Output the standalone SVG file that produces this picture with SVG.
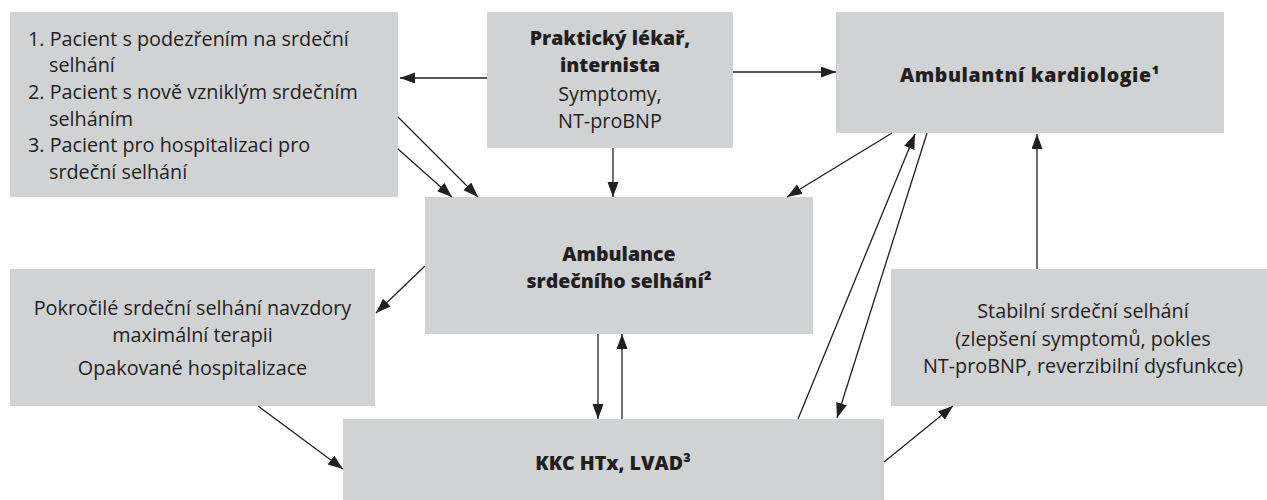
<svg xmlns="http://www.w3.org/2000/svg" width="1267" height="500" viewBox="0 0 1267 500">
<defs>
<marker id="ah" markerUnits="userSpaceOnUse" markerWidth="16" markerHeight="12" refX="15" refY="5.5" orient="auto"><path d="M0,0 L15,5.5 L0,11 z" fill="#231f20"/></marker>
<style>
.box{fill:#d1d2d4}
.t{font-family:"Open Sans","Liberation Sans",sans-serif;font-size:19.8px;fill:#231f20}
.b{font-weight:800;font-size:19.5px}
.m{text-anchor:middle}
.c line{stroke:#231f20;stroke-width:1.3;marker-end:url(#ah)}
</style>
</defs>
<rect width="1267" height="500" fill="#fff"/>
<g id="n-pacient">
<rect class="box" x="10" y="12" width="388" height="185"/>
<text class="t" x="28" y="46">1. Pacient s podezřením na srdeční</text>
<text class="t" x="49" y="72">selhání</text>
<text class="t" x="28" y="99">2. Pacient s nově vzniklým srdečním</text>
<text class="t" x="49" y="126">selháním</text>
<text class="t" x="28" y="152">3. Pacient pro hospitalizaci pro</text>
<text class="t" x="49" y="179">srdeční selhání</text>
</g>
<g id="n-prakticky">
<rect class="box" x="487" y="12" width="246" height="136"/>
<text class="t b m" x="610" y="45">Praktický lékař,</text>
<text class="t b m" x="610" y="72">internista</text>
<text class="t m" x="610" y="101">Symptomy,</text>
<text class="t m" x="610" y="128">NT-proBNP</text>
</g>
<g id="n-ambkard">
<rect class="box" x="836" y="12" width="388" height="121"/>
<text class="t b m" x="1030" y="82" letter-spacing="0.6">Ambulantní kardiologie¹</text>
</g>
<g id="n-ambss">
<rect class="box" x="425" y="197" width="388" height="137"/>
<text class="t b m" x="619" y="261">Ambulance</text>
<text class="t b m" x="619" y="288">srdečního selhání²</text>
</g>
<g id="n-pokrocile">
<rect class="box" x="10" y="269" width="365" height="137"/>
<text class="t m" x="192.5" y="315">Pokročilé srdeční selhání navzdory</text>
<text class="t m" x="192.5" y="342">maximální terapii</text>
<text class="t m" x="192.5" y="375">Opakované hospitalizace</text>
</g>
<g id="n-kkc">
<rect class="box" x="343" y="419" width="541" height="81"/>
<text class="t b m" x="613" y="470">KKC HTx, LVAD³</text>
</g>
<g id="n-stabilni">
<rect class="box" x="891" y="269" width="376" height="137"/>
<text class="t m" x="1083" y="318">Stabilní srdeční selhání</text>
<text class="t m" x="1083" y="346">(zlepšení symptomů, pokles</text>
<text class="t m" x="1083" y="373">NT-proBNP, reverzibilní dysfunkce)</text>
</g>
<g id="connectors" class="c">
<line x1="487" y1="78" x2="400" y2="78"/>
<line x1="733" y1="72" x2="836" y2="72"/>
<line x1="613" y1="148" x2="613" y2="197"/>
<line x1="398" y1="117" x2="478" y2="197"/>
<line x1="398" y1="149" x2="452" y2="197"/>
<line x1="892" y1="133" x2="787" y2="197"/>
<line x1="425" y1="266" x2="376" y2="313"/>
<line x1="598" y1="334" x2="598" y2="419"/>
<line x1="622" y1="419" x2="622" y2="334"/>
<line x1="258" y1="406" x2="343" y2="469"/>
<line x1="798" y1="419" x2="915" y2="134"/>
<line x1="927" y1="133" x2="837" y2="418"/>
<line x1="884" y1="462" x2="953" y2="406"/>
<line x1="1037" y1="269" x2="1037" y2="134"/>
</g>
</svg>
